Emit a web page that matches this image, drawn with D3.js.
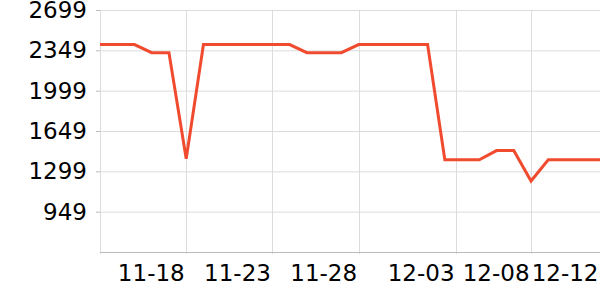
<!DOCTYPE html>
<html>
<head>
	<script src="https://d3js.org/d3.v7.min.js"></script>
	<style>
		body { margin: 0; background: #fff; }
		text { font-family: "DejaVu Sans", sans-serif; }
	</style>
</head>
<body>
	<div id="chart"></div>
	<script type="text/javascript">
		// dates (month-day), one point per day
		var dates = ['11-13','11-14','11-15','11-16','11-17','11-18','11-19','11-20','11-21','11-22',
			'11-23','11-24','11-25','11-26','11-27','11-28','11-29','11-30','12-01','12-02',
			'12-03','12-04','12-05','12-06','12-07','12-08','12-09','12-10','12-11','12-12'];
		var prices = [2399, 2399, 2399, 2329, 2329, 1409, 2399, 2399, 2399, 2399,
			2399, 2399, 2329, 2329, 2329, 2399, 2399, 2399, 2399, 2399,
			1399, 1399, 1399, 1479, 1479, 1215, 1399, 1399, 1399, 1399];
		var yTicks = [949, 1299, 1649, 1999, 2349, 2699];
		var xTickLabels = ['11-18', '11-23', '11-28', '12-03', '12-08', '12-12'];
		// position of each label along the day index (as drawn in the original)
		var xTickPos = [5, 10, 15, 20.65, 25, 29];

		var margin = { top: 10, right: 0, bottom: 48, left: 100 };
		var width = 600 - margin.left - margin.right;
		var height = 300 - margin.top - margin.bottom;

		var svg = d3.select('#chart').append('svg')
			.attr('width', 600)
			.attr('height', 300);
		var g = svg.append('g')
			.attr('transform', 'translate(' + margin.left + ',' + margin.top + ')');

		var xScale = d3.scaleLinear()
			.domain([0, dates.length - 1])
			.range([0, width]);
		var yScale = d3.scaleLinear()
			.domain([599, 2699])
			.range([height, 0]);

		// horizontal grid
		g.append('g')
			.selectAll('line')
			.data(yTicks)
			.enter().append('line')
			.attr('x1', 0).attr('x2', width)
			.attr('y1', d => yScale(d) + 0.5).attr('y2', d => yScale(d) + 0.5)
			.style('stroke', '#dcdcdc');

		// vertical grid
		g.append('g')
			.selectAll('line')
			.data([0].concat(xTickPos.slice(0, -1)))
			.enter().append('line')
			.attr('x1', d => Math.round(xScale(d)) + 0.5).attr('x2', d => Math.round(xScale(d)) + 0.5)
			.attr('y1', 0).attr('y2', height + 2)
			.style('stroke', '#dcdcdc');

		// y axis
		var yAxis = d3.axisLeft(yScale)
			.tickValues(yTicks)
			.tickFormat(d3.format('d'))
			.tickSize(4)
			.tickPadding(9);
		var yGuide = g.append('g').call(yAxis);
		yGuide.select('.domain').remove();
		yGuide.selectAll('line').style('stroke', '#bbb');
		yGuide.selectAll('text')
			.style('font-size', '23px')
			.style('fill', '#000');

		// x axis
		var xAxis = d3.axisBottom(xScale)
			.tickValues(xTickPos)
			.tickFormat((d, i) => xTickLabels[i])
			.tickSize(0)
			.tickPadding(12);
		var xGuide = g.append('g')
			.attr('transform', 'translate(0,' + (height + 0.5) + ')')
			.call(xAxis);
		xGuide.select('.domain')
			.attr('d', 'M0,0H' + width)
			.style('stroke', '#bbb');
		xGuide.selectAll('text')
			.attr('text-anchor', 'end')
			.attr('dx', '-2')
			.attr('dy', '0.71em')
			.style('font-size', '23px')
			.style('fill', '#000');

		// price line
		var line = d3.line()
			.x((d, i) => xScale(i))
			.y(d => yScale(d));
		g.append('path')
			.datum(prices)
			.attr('d', line)
			.style('fill', 'none')
			.style('stroke', '#f04b2e')
			.style('stroke-width', 3);
	</script>
</body>
</html>
